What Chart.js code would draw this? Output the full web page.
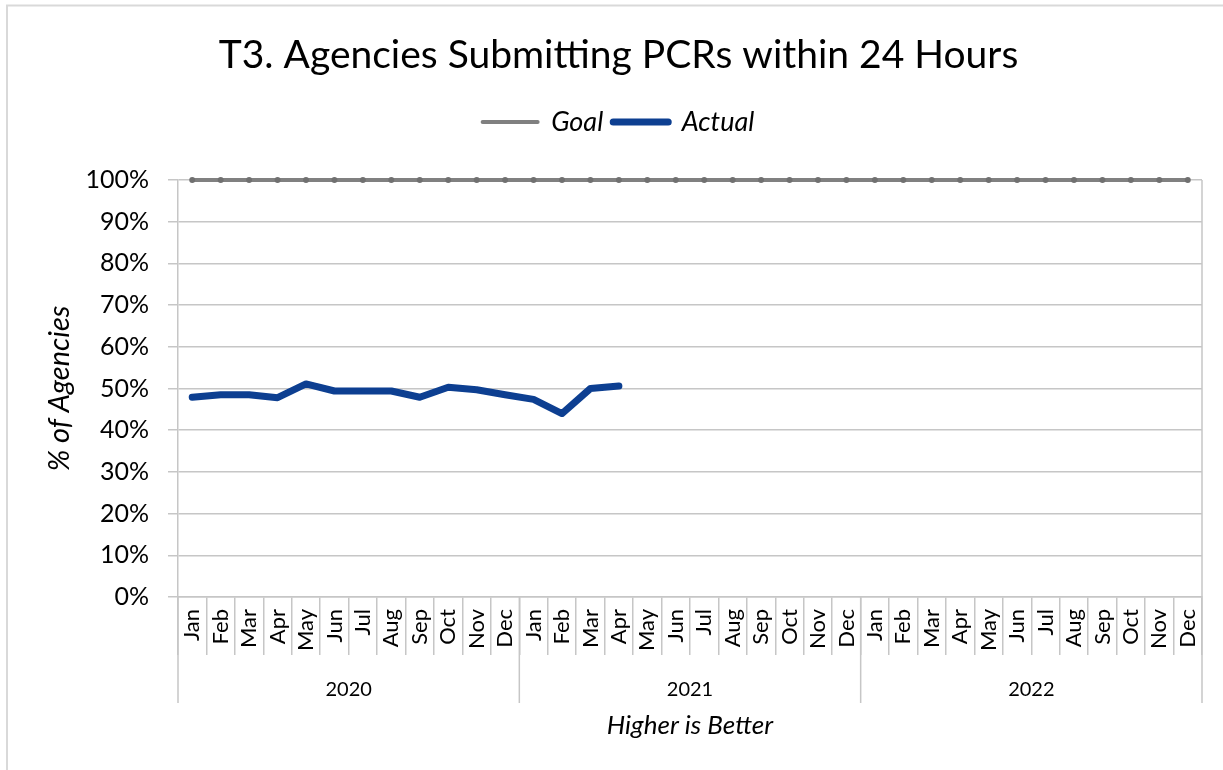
<!DOCTYPE html>
<html>
<head>
<meta charset="utf-8">
<script src="https://cdn.jsdelivr.net/npm/chart.js@4/dist/chart.umd.min.js"></script>
<style>
  html, body { margin: 0; padding: 0; background: #fff; }
  #wrap { width: 1223px; height: 770px; }
</style>
</head>
<body>
<div id="wrap"><canvas id="t3-chart"></canvas></div>
<script>
// data
const months = ['Jan', 'Feb', 'Mar', 'Apr', 'May', 'Jun', 'Jul', 'Aug', 'Sep', 'Oct', 'Nov', 'Dec'];
const years = ['2020', '2021', '2022'];
const goal = [1, 1, 1, 1, 1, 1, 1, 1, 1, 1, 1, 1,
              1, 1, 1, 1, 1, 1, 1, 1, 1, 1, 1, 1,
              1, 1, 1, 1, 1, 1, 1, 1, 1, 1, 1, 1];
const actual = [0.479, 0.485, 0.485, 0.478, 0.511, 0.494, 0.494, 0.494, 0.479, 0.503, 0.497, 0.485,
                0.474, 0.440, 0.500, 0.506];
const yTicks = [0, 0.1, 0.2, 0.3, 0.4, 0.5, 0.6, 0.7, 0.8, 0.9, 1];

const labels = [];
years.forEach(y => months.forEach(m => labels.push(m)));

const lineGray = '#c6c6c6';
const font = 'Lato';

// frame, right plot edge, year row
const extras = {
  id: 'extras',
  beforeDraw(chart) {
    const c = chart.ctx;
    c.save();
    c.fillStyle = '#fff';
    c.fillRect(0, 0, chart.width, chart.height);
    c.strokeStyle = '#d9d9d9';
    c.lineWidth = 2;
    c.beginPath();
    c.moveTo(7, chart.height + 5);
    c.lineTo(7, 5.5);
    c.lineTo(chart.width + 5, 5.5);
    c.stroke();
    c.restore();
  },
  afterDraw(chart) {
    const c = chart.ctx;
    const x = chart.scales.x;
    const area = chart.chartArea;
    const step = (x.right - x.left) / labels.length;
    c.save();
    c.strokeStyle = lineGray;
    c.lineWidth = 1.5;
    c.beginPath();
    c.moveTo(area.right, area.top);
    c.lineTo(area.right, area.bottom);
    for (let i = 0; i <= years.length; i++) {
      const px = x.left + i * 12 * step;
      c.moveTo(px, area.bottom);
      c.lineTo(px, area.bottom + 106);
    }
    c.stroke();
    c.fillStyle = '#000';
    c.font = '20px ' + font;
    c.textAlign = 'center';
    c.textBaseline = 'middle';
    years.forEach((y, i) => {
      const mid = (x.getPixelForValue(i * 12) + x.getPixelForValue(i * 12 + 11)) / 2;
      c.fillText(y, mid, area.bottom + 93);
    });
    c.restore();
  }
};

const ctx = document.getElementById('t3-chart').getContext('2d');
const t3Chart = new Chart(ctx, {
  type: 'line',
  data: {
    labels: labels,
    datasets: [{
      label: 'Goal',
      data: goal,
      borderColor: '#808080',
      backgroundColor: '#707070',
      borderWidth: 4,
      borderCapStyle: 'round',
      pointRadius: 3,
      pointBorderWidth: 0,
      clip: false,
      fill: false
    }, {
      label: 'Actual',
      data: actual,
      borderColor: '#0d3f91',
      backgroundColor: '#0d3f91',
      borderWidth: 7,
      borderCapStyle: 'round',
      borderJoinStyle: 'round',
      pointRadius: 2,
      pointBorderWidth: 0,
      clip: false,
      fill: false
    }]
  },
  options: {
    responsive: true,
    maintainAspectRatio: false,
    animation: false,
    layout: { padding: { left: 14, right: 0, top: 0, bottom: 0 } },
    plugins: {
      title: {
        display: true,
        text: 'T3. Agencies Submitting PCRs within 24 Hours',
        color: '#000',
        font: { family: font, size: 39, weight: 'normal' },
        padding: { top: 31.6, bottom: 20 }
      },
      // empty spacer between legend and plot
      subtitle: {
        display: true,
        text: '',
        weight: 500,
        font: { size: 10 },
        padding: { top: 22.6, bottom: 0 }
      },
      legend: {
        position: 'top',
        labels: {
          color: '#000',
          font: { family: font, size: 27, style: 'italic' },
          usePointStyle: true,
          pointStyle: 'line',
          pointStyleWidth: 55,
          padding: 10,
          generateLabels(chart) {
            const items = Chart.defaults.plugins.legend.labels.generateLabels(chart);
            items.forEach(it => {
              const ds = chart.data.datasets[it.datasetIndex];
              it.lineWidth = ds.borderWidth;
              it.strokeStyle = ds.borderColor;
              it.lineCap = 'round';
            });
            return items;
          }
        }
      },
      tooltip: { enabled: false }
    },
    scales: {
      x: {
        offset: true,
        grid: {
          offset: true,
          drawOnChartArea: false,
          color: lineGray,
          lineWidth: 1.5,
          tickLength: 58
        },
        border: { color: lineGray, width: 1.5 },
        ticks: {
          color: '#000',
          font: { family: font, size: 22 },
          minRotation: 90,
          maxRotation: 90,
          autoSkip: false,
          padding: -46
        },
        title: {
          display: true,
          text: 'Higher is Better',
          color: '#000',
          font: { family: font, size: 26, style: 'italic' },
          padding: { top: 0, bottom: 29 }
        },
        afterFit(scale) {
          scale.height = 173;
          scale.paddingRight = 21;
        }
      },
      y: {
        min: 0,
        max: 1,
        afterBuildTicks(scale) { scale.ticks = yTicks.map(v => ({ value: v })); },
        grid: { color: lineGray, lineWidth: 1.5, tickLength: 10 },
        border: { color: lineGray, width: 1.5 },
        ticks: {
          color: '#000',
          font: { family: font, size: 25 },
          padding: 19,
          callback: v => Math.round(v * 100) + '%'
        },
        title: {
          display: true,
          text: '% of Agencies',
          color: '#000',
          font: { family: font, size: 29, style: 'italic' },
          padding: { top: 28, bottom: 0 }
        },
        afterFit(scale) { scale.width = 164; }
      }
    }
  },
  plugins: [extras]
});
</script>
</body>
</html>
